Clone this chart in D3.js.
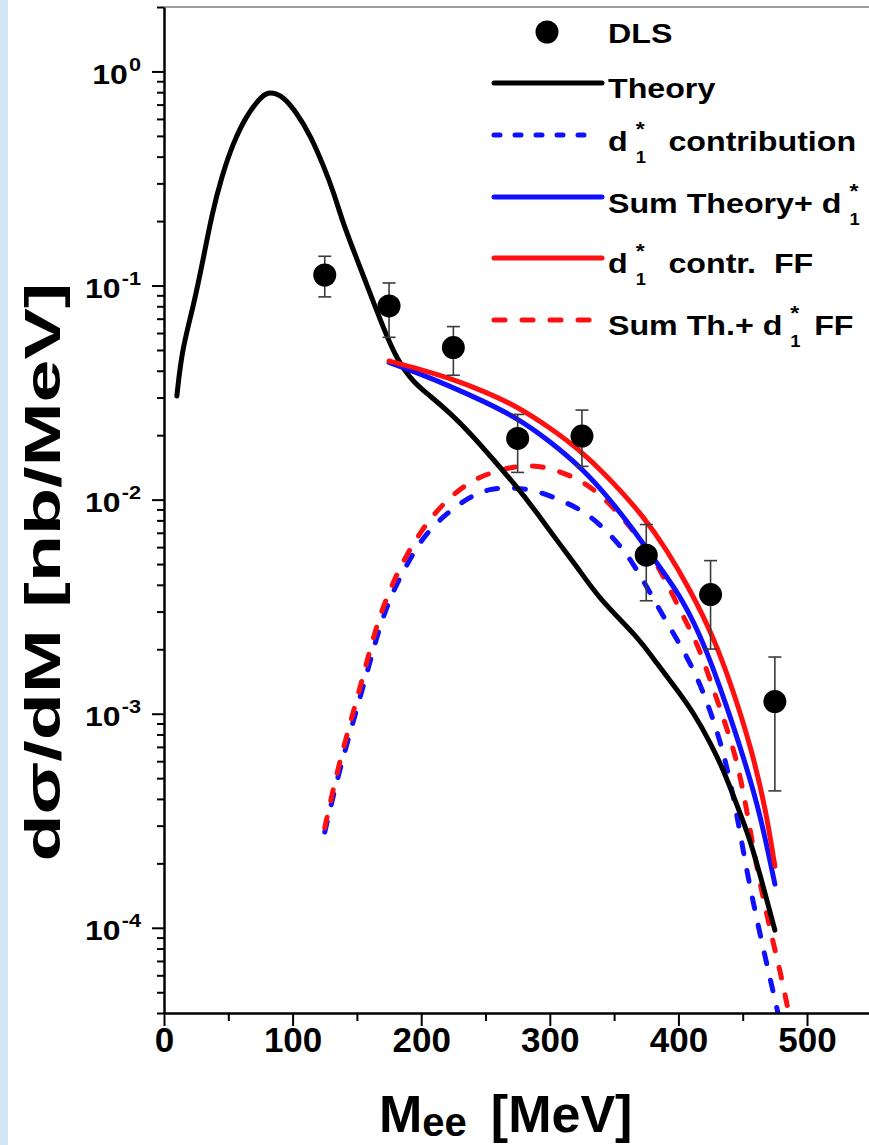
<!DOCTYPE html>
<html><head><meta charset="utf-8">
<script src="https://cdn.jsdelivr.net/npm/d3@7"></script>
<style>
body{margin:0;background:#fff}
svg{display:block}
text{font-family:"Liberation Sans",Arial,Helvetica,sans-serif;font-weight:bold;fill:#000}
</style>
</head><body>
<svg id="c" width="869" height="1145"></svg>
<script>
// ---------- data ----------
const dlsX  = [125, 175, 225, 275, 325, 375, 425, 475];
const dlsY  = [0.112, 0.0803, 0.0513, 0.0193, 0.0198, 0.0055, 0.0036, 0.00114];
const dlsHi = [0.137, 0.1028, 0.0643, 0.025, 0.0262, 0.00765, 0.00519, 0.00184];
const dlsLo = [0.0885, 0.0573, 0.0381, 0.0134, 0.0143, 0.00337, 0.002005, 0.000436];

const theoryX = [10, 14, 23, 31, 37, 45, 54, 64, 75, 81, 87, 93, 103, 114, 124, 132, 139, 150, 160, 171, 181, 194, 207, 222, 238, 256, 274, 290, 305, 321, 339, 368, 383, 399, 412, 425, 435, 445, 456, 466, 475];
const theoryY = [0.0305, 0.0504, 0.0803, 0.1375, 0.212, 0.326, 0.467, 0.621, 0.757, 0.80, 0.79, 0.757, 0.644, 0.501, 0.363, 0.272, 0.197, 0.133, 0.0927, 0.0625, 0.0452, 0.0352, 0.0305, 0.0255, 0.0205, 0.0154, 0.01155, 0.00868, 0.0065, 0.00488, 0.0034, 0.0023, 0.001725, 0.001294, 0.001006, 0.000729, 0.000546, 0.000382, 0.000257, 0.0001555, 0.0000975];

const d1X = [125, 134.5, 144.6, 152.4, 160.2, 167.9, 178.1, 189.7, 201.4, 220.1, 237.9, 253.5, 269.1, 286.9, 307.9, 328.9, 349.1, 364.7, 377.9, 391.1, 403.6, 414.5, 424.6, 434.7, 444, 452.6, 463.5, 477.5, 482.2];
const d1Y = [2.8e-4, 4.91e-4, 8.14e-4, 1.187e-3, 1.749e-3, 2.577e-3, 3.757e-3, 5.08e-3, 6.72e-3, 8.7e-3, 1.034e-2, 1.127e-2, 1.139e-2, 1.114e-2, 1.001e-2, 8.7e-3, 6.72e-3, 5.08e-3, 3.68e-3, 2.66e-3, 1.99e-3, 1.488e-3, 1.042e-3, 6.78e-4, 3.83e-4, 1.9e-4, 9.25e-5, 3.99e-5, 2.98e-5];

const sumX = [175, 196.5, 222.4, 248.3, 274.3, 300.2, 326.1, 346.8, 364.9, 383.1, 403.8, 422, 437.6, 450.5, 463.5, 475];
const sumY = [0.0437, 0.0392, 0.0339, 0.02885, 0.02413, 0.01875, 0.01383, 0.01001, 0.00725, 0.00506, 0.00341, 0.00199, 0.001081, 0.000631, 0.000343, 0.00016];

const ffX = [175, 199.1, 225, 248.3, 274.3, 300.2, 326.1, 352, 372.7, 390.9, 409, 427.1, 442.7, 457, 468, 475];
const ffY = [0.0444, 0.0406, 0.03644, 0.03214, 0.02734, 0.02167, 0.01656, 0.01155, 0.00836, 0.00584, 0.0038, 0.0023, 0.00128, 0.000678, 0.000355, 0.000194];

const sumFFX = [125, 134.5, 144.6, 152.4, 160.2, 167.9, 178.1, 187.4, 200.6, 214.6, 235.6, 255.8, 279.2, 300.2, 323.5, 341.4, 360, 377.9, 391.1, 403.6, 414.5, 424.6, 434.7, 445.6, 453.4, 461.2, 471.3, 479, 485.2];
const sumFFY = [2.93e-4, 5.35e-4, 8.97e-4, 1.321e-3, 1.99e-3, 2.9e-3, 4.1e-3, 5.36e-3, 7.25e-3, 9.28e-3, 1.202e-2, 1.353e-2, 1.46e-2, 1.413e-2, 1.242e-2, 1.034e-2, 7.81e-3, 5.66e-3, 4.1e-3, 2.84e-3, 2.15e-3, 1.44e-3, 9.67e-4, 6.09e-4, 3.48e-4, 1.86e-4, 9.76e-5, 6.34e-5, 4.17e-5];

const xTicks = [0, 100, 200, 300, 400, 500];
const xMinor = [50, 150, 250, 350, 450];
const yTicks = [1, 0.1, 0.01, 0.001, 0.0001];
const yTickExp = ["0", "-1", "-2", "-3", "-4"];

// ---------- drawing ----------
const svg = d3.select("#c");
const W = 869, H = 1145;
const x = d3.scaleLinear().domain([0, 548.2]).range([164, 869]);
const y = d3.scaleLog().domain([4e-5, 2]).range([1013, 7]);

svg.append("rect").attr("width", W).attr("height", H).attr("fill", "#fff");
svg.append("rect").attr("width", 8).attr("height", H).attr("fill", "#d3e5f4");

svg.append("line").attr("x1", x(0)).attr("x2", W).attr("y1", y(2)).attr("y2", y(2))
  .attr("stroke", "#9c9c9c").attr("stroke-width", 2);

svg.append("clipPath").attr("id", "clip").append("rect")
  .attr("x", x(0)).attr("y", y(2)).attr("width", W - x(0)).attr("height", y(4e-5) - y(2));

const plot = svg.append("g").attr("clip-path", "url(#clip)");
const line = d3.line().x(d => x(d[0])).y(d => y(d[1])).curve(d3.curveBasis);
const zip = (a, b) => a.map((v, i) => [v, b[i]]);

const series = [
  {xs: d1X, ys: d1Y, color: "#1010ff", dash: "11,17"},
  {xs: sumFFX, ys: sumFFY, color: "#ff1010", dash: "11,17"},
  {xs: theoryX, ys: theoryY, color: "#000", dash: null},
  {xs: sumX, ys: sumY, color: "#1010ff", dash: null},
  {xs: ffX, ys: ffY, color: "#ff1010", dash: null}
];
series.forEach(s => {
  plot.append("path").attr("d", line(zip(s.xs, s.ys)))
    .attr("fill", "none").attr("stroke", s.color).attr("stroke-width", 5)
    .attr("stroke-linecap", "round").attr("stroke-linejoin", "round")
    .attr("stroke-dasharray", s.dash);
});

// error bars + points
const eb = svg.append("g").attr("stroke", "#3a3a3a").attr("stroke-width", 1.6);
dlsX.forEach((xv, i) => {
  const cx = x(xv);
  eb.append("line").attr("x1", cx).attr("x2", cx).attr("y1", y(dlsHi[i])).attr("y2", y(dlsLo[i]));
  [dlsHi[i], dlsLo[i]].forEach(v => {
    eb.append("line").attr("x1", cx - 6.5).attr("x2", cx + 6.5).attr("y1", y(v)).attr("y2", y(v));
  });
});
svg.append("g").selectAll("circle").data(dlsX).join("circle")
  .attr("cx", d => x(d)).attr("cy", (d, i) => y(dlsY[i])).attr("r", 11.5).attr("fill", "#000");

// axes
const yMinor = [];
for (let e = -5; e <= 0; e++) for (let m = 2; m <= 9; m++) {
  const v = m * Math.pow(10, e);
  if (v >= 4e-5 && v <= 2.0001) yMinor.push(v);
}
const yAxisMinor = svg.append("g").attr("transform", `translate(${x(0)},0)`)
  .call(d3.axisLeft(y).tickValues(yMinor).tickSize(7).tickFormat(""));
const yAxis = svg.append("g").attr("transform", `translate(${x(0)},0)`)
  .call(d3.axisLeft(y).tickValues(yTicks).tickSize(12).tickSizeOuter(0).tickFormat(""));
[yAxisMinor, yAxis].forEach(g => {
  g.selectAll(".tick line").attr("stroke", "#000").attr("stroke-width", 2);
  g.select(".domain").attr("stroke", "#000").attr("stroke-width", 2.5);
});
yAxisMinor.select(".domain").remove();

const xAxisMinor = svg.append("g").attr("transform", `translate(0,${y(4e-5)})`)
  .call(d3.axisBottom(x).tickValues(xMinor).tickSize(8).tickFormat(""));
xAxisMinor.select(".domain").remove();
const xAxis = svg.append("g").attr("transform", `translate(0,${y(4e-5)})`)
  .call(d3.axisBottom(x).tickValues(xTicks).tickSize(13).tickSizeOuter(0).tickFormat(d3.format("d")));
[xAxisMinor, xAxis].forEach(g => g.selectAll(".tick line").attr("stroke", "#000").attr("stroke-width", 2));
xAxis.select(".domain").attr("stroke", "#000").attr("stroke-width", 2.5);
xAxis.selectAll(".tick text").attr("font-size", 35).attr("font-family", null)
  .attr("y", 0).attr("dy", 0).attr("transform", "translate(0,39)").attr("fill", "#000");

// y tick labels
yTicks.forEach((v, i) => {
  const g = svg.append("g").attr("transform", `translate(141,${y(v) + 12.5}) scale(1.14,1)`);
  const t = g.append("text").attr("x", 0).attr("y", 0).attr("text-anchor", "end");
  t.append("tspan").attr("font-size", 28).text("10");
  t.append("tspan").attr("font-size", 19).attr("dx", 1).attr("dy", -13).text(yTickExp[i]);
});

// axis titles
const xt = svg.append("text").attr("x", 379).attr("y", 1132).attr("font-size", 52);
xt.append("tspan").text("M");
xt.append("tspan").attr("font-size", 40).attr("dy", 4).text("ee");
xt.append("tspan").attr("dy", -4).attr("dx", 24).text("[MeV]");

svg.append("text").attr("transform", "translate(60,572) rotate(-90)")
  .attr("text-anchor", "middle").attr("font-size", 50)
  .attr("textLength", 579).attr("lengthAdjust", "spacingAndGlyphs")
  .text("dσ/dM [nb/MeV]");

// legend
const leg = svg.append("g");
leg.append("circle").attr("cx", 547).attr("cy", 32).attr("r", 11.5).attr("fill", "#000");
const legLines = [
  {y: 83, color: "#000", dash: null, x2: 602},
  {y: 135, color: "#1010ff", dash: "6,15", x2: 592},
  {y: 197, color: "#1010ff", dash: null, x2: 602},
  {y: 258, color: "#ff1010", dash: null, x2: 602},
  {y: 320, color: "#ff1010", dash: "11,17", x2: 592}
];
legLines.forEach(l => {
  leg.append("line").attr("x1", 494).attr("x2", l.x2).attr("y1", l.y).attr("y2", l.y)
    .attr("stroke", l.color).attr("stroke-width", 5).attr("stroke-linecap", "round")
    .attr("stroke-dasharray", l.dash);
});

const SX = 1.15;
function richText(x0, yb, parts) {
  const g = leg.append("g").attr("transform", `translate(${x0},${yb}) scale(${SX},1)`);
  let cx = 0;
  parts.forEach(p => {
    if (p.t !== undefined) {
      const t = g.append("text").attr("x", cx).attr("y", 0).attr("font-size", 28)
        .attr("xml:space", "preserve").style("white-space", "pre").text(p.t);
      cx += t.node().getComputedTextLength();
    } else {
      const sx = cx + 7;
      const a = g.append("text").attr("x", sx).attr("y", -15).attr("font-size", 20).text("*");
      const b = g.append("text").attr("x", sx).attr("y", 12).attr("font-size", 16).text("1");
      cx = sx + Math.max(a.node().getComputedTextLength(), b.node().getComputedTextLength()) + 4;
    }
  });
}
richText(608, 43, [{t: "DLS"}]);
richText(608, 98, [{t: "Theory"}]);
richText(608, 151, [{t: "d"}, {s: 1}, {t: "  contribution"}]);
richText(608, 213, [{t: "Sum Theory+ d"}, {s: 1}]);
richText(608, 273, [{t: "d"}, {s: 1}, {t: "  contr.  FF"}]);
richText(608, 335, [{t: "Sum Th.+ d"}, {s: 1}, {t: " FF"}]);
</script>
</body></html>
